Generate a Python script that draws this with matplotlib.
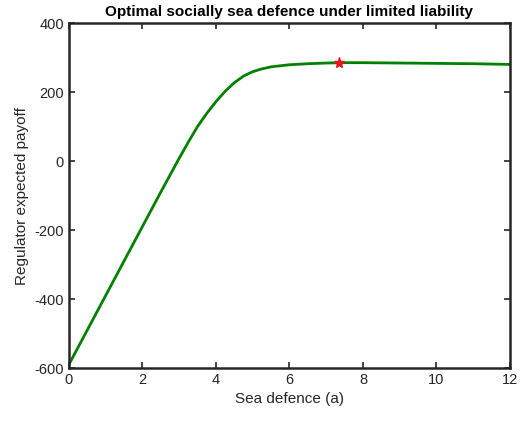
import matplotlib
matplotlib.use("Agg")
import matplotlib.pyplot as plt

plt.rcParams['font.family'] = ['Liberation Sans', 'DejaVu Sans']
plt.rcParams['axes.unicode_minus'] = False

sea_defence = [0, 0.5, 1, 1.5, 2, 2.5, 3, 3.25, 3.5, 3.75, 4, 4.25, 4.5, 4.75, 5, 5.25, 5.5,
               6, 6.5, 7, 7.5, 8, 9, 10, 11, 12]
payoff = [-590, -490, -390, -290, -190, -90, 8, 55, 100, 138, 172, 202, 227, 246, 259, 267, 273,
          279, 282, 284, 285, 285, 284, 283, 282, 280]
opt_x = [7.35]
opt_y = [285]

x_ticks = [0, 2, 4, 6, 8, 10, 12]
y_ticks = [-600, -400, -200, 0, 200, 400]

fig = plt.figure(figsize=(5.22, 4.23), dpi=100)
ax = fig.add_axes([0.132, 0.130, 0.845, 0.8156])
ax.plot(sea_defence, payoff, color=(0.0, 0.5, 0.0), linewidth=2)
ax.plot(opt_x, opt_y, marker='*', color='#e8161b', markersize=8, linestyle='none')

ax.set_xlim(0, 12)
ax.set_ylim(-600, 400)
ax.set_xticks(x_ticks)
ax.set_yticks(y_ticks)
ax.tick_params(direction='in', top=True, right=True, labelsize=10.5, colors='#262626', length=4, width=1.2)
for s in ax.spines.values():
    s.set_linewidth(1.8)
    s.set_color('#262626')
ax.set_xlabel('Sea defence (a)', fontsize=11, color='#262626')
ax.set_ylabel('Regulator expected payoff', fontsize=11, color='#262626')
ax.set_title('Optimal socially sea defence under limited liability', fontsize=11, fontweight='bold', pad=5)

fig.savefig('out.png', dpi=100)
